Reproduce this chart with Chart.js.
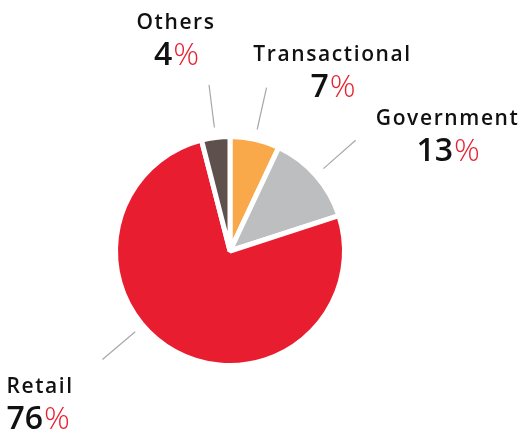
<!DOCTYPE html>
<html><head><meta charset="utf-8">
<script src="https://cdn.jsdelivr.net/npm/chart.js@4/dist/chart.umd.min.js"></script>
<style>html,body{margin:0;padding:0;background:#fff}#wrap{width:524px;height:431px;position:relative}</style>
</head><body><div id="wrap"><canvas id="c" width="524" height="431"></canvas></div>
<script>
const categories = ["Transactional", "Government", "Retail", "Others"];
const shares = [7, 13, 76, 4];
const sliceColors = ["#F9A84A", "#BDBEC0", "#E91D30", "#5E514D"];

// label layout per category: leader-line angle override (deg clockwise from top, null = slice middle),
// and name-baseline anchor relative to leader-line outer end
const labelLayout = {
  Transactional: {angle: null, dx: 66, dy: -27, align: "center"},
  Government:    {angle: null, dx: 92, dy: -15, align: "center"},
  Retail:        {angle: 229.6, dx: -96, dy: 33, align: "left"},
  Others:        {angle: null, dx: -33, dy: -56, align: "center"}
};

const labelPlugin = {
  id: "labels",
  afterDatasetsDraw(chart) {
    const ctx = chart.ctx;
    const meta = chart.getDatasetMeta(0);
    meta.data.forEach((arc, i) => {
      const name = categories[i];
      const lay = labelLayout[name];
      const mid = (arc.startAngle + arc.endAngle) / 2;
      const a = lay.angle === null ? mid : (lay.angle - 90) * Math.PI / 180;
      const r = arc.outerRadius;
      const x1 = arc.x + Math.cos(a) * (r + 10), y1 = arc.y + Math.sin(a) * (r + 10);
      const x2 = arc.x + Math.cos(a) * (r + 53), y2 = arc.y + Math.sin(a) * (r + 53);
      ctx.save();
      ctx.strokeStyle = "#A7A7A7";
      ctx.lineWidth = 1.2;
      ctx.beginPath(); ctx.moveTo(x1, y1); ctx.lineTo(x2, y2); ctx.stroke();
      const lx = x2 + lay.dx, ly = y2 + lay.dy;
      ctx.textBaseline = "alphabetic";
      ctx.font = "600 21px 'Open Sans'";
      ctx.letterSpacing = "1.6px";
      ctx.fillStyle = "#111";
      const nameW = ctx.measureText(name).width;
      let nx = lay.align === "center" ? lx - nameW / 2 : lx;
      ctx.fillText(name, nx, ly);
      ctx.letterSpacing = "0px";
      ctx.font = "600 32px 'Open Sans'";
      const num = String(shares[i]);
      const numW = ctx.measureText(num).width;
      ctx.font = "300 32px 'Open Sans'";
      const pctW = ctx.measureText("%").width;
      const tot = numW + pctW;
      let px = lay.align === "center" ? lx - tot / 2 : lx;
      const py = ly + 36;
      ctx.font = "600 32px 'Open Sans'";
      ctx.fillStyle = "#111";
      ctx.fillText(num, px, py);
      ctx.font = "300 32px 'Open Sans'";
      ctx.fillStyle = "#E8202F";
      ctx.fillText("%", px + numW + 1, py);
      ctx.restore();
    });
  }
};

new Chart(document.getElementById("c"), {
  type: "pie",
  data: {
    labels: categories,
    datasets: [{
      data: shares,
      backgroundColor: sliceColors,
      borderColor: "#ffffff",
      borderWidth: 5
    }]
  },
  options: {
    responsive: false,
    animation: false,
    events: [],
    layout: {padding: {left: 113, right: 177, top: 134, bottom: 63}},
    plugins: {legend: {display: false}, tooltip: {enabled: false}}
  },
  plugins: [labelPlugin]
});
</script></body></html>
